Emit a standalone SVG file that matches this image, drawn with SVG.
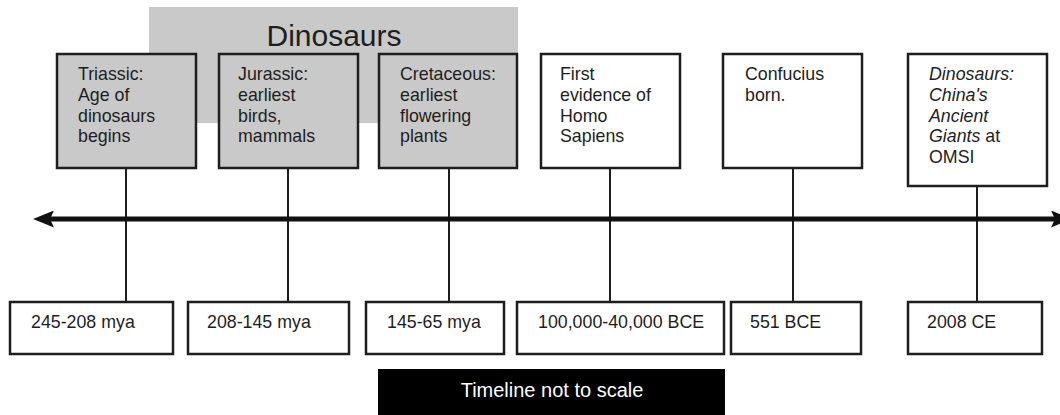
<svg xmlns="http://www.w3.org/2000/svg" width="1060" height="415" viewBox="0 0 1060 415">
<defs>
<style>
.bg{fill:#ffffff}
.era{fill:#c9c9c9;stroke:#1e1e1e;stroke-width:2.5}
.evt{fill:#ffffff;stroke:#1e1e1e;stroke-width:2.5}
.t{font-family:"Liberation Sans",Arial,sans-serif;font-size:17.8px;fill:#1e1e1e}
.it{font-style:italic}
.title{font-family:"Liberation Sans",Arial,sans-serif;font-size:30px;fill:#1e1e1e}
.note{font-family:"Liberation Sans",Arial,sans-serif;font-size:20px;fill:#ffffff}
.conn{stroke:#1e1e1e;stroke-width:2;fill:none}
.axis{stroke:#111;stroke-width:5;fill:none}
</style>
<marker id="ah" viewBox="0 0 21 17" markerWidth="21" markerHeight="17" refX="4" refY="8.5" orient="auto-start-reverse" markerUnits="userSpaceOnUse">
<path d="M0,0 L21,8.5 L0,17 L4,8.5 Z" fill="#111"/>
</marker>
</defs>
<rect class="bg" x="0" y="0" width="1060" height="415"/>

<g id="dinosaurs-band">
<rect x="149" y="7" width="369" height="116" fill="#c9c9c9"/>
<text class="title" x="334" y="46" text-anchor="middle">Dinosaurs</text>
</g>

<g id="connectors">
<line class="conn" x1="126" y1="168" x2="126" y2="302"/>
<line class="conn" x1="288" y1="168" x2="288" y2="302"/>
<line class="conn" x1="449" y1="168" x2="449" y2="302"/>
<line class="conn" x1="610" y1="168" x2="610" y2="302"/>
<line class="conn" x1="793" y1="168" x2="793" y2="302"/>
<line class="conn" x1="977" y1="186" x2="977" y2="302"/>
<line class="axis" x1="50" y1="219" x2="1055" y2="219" marker-start="url(#ah)" marker-end="url(#ah)"/>
</g>

<g id="triassic">
<rect class="era" x="57" y="54" width="139" height="114"/>
<text class="t" x="78" y="80">Triassic:</text>
<text class="t" x="78" y="101">Age of</text>
<text class="t" x="78" y="121.5">dinosaurs</text>
<text class="t" x="78" y="142">begins</text>
</g>
<g id="jurassic">
<rect class="era" x="219" y="54" width="139" height="114"/>
<text class="t" x="238" y="80">Jurassic:</text>
<text class="t" x="238" y="101">earliest</text>
<text class="t" x="238" y="121.5">birds,</text>
<text class="t" x="238" y="142">mammals</text>
</g>
<g id="cretaceous">
<rect class="era" x="379" y="54" width="138" height="114"/>
<text class="t" x="400" y="80">Cretaceous:</text>
<text class="t" x="400" y="101">earliest</text>
<text class="t" x="400" y="121.5">flowering</text>
<text class="t" x="400" y="142">plants</text>
</g>
<g id="homo-sapiens">
<rect class="evt" x="541" y="54" width="139" height="114"/>
<text class="t" x="560" y="80">First</text>
<text class="t" x="560" y="101">evidence of</text>
<text class="t" x="560" y="121.5">Homo</text>
<text class="t" x="560" y="142">Sapiens</text>
</g>
<g id="confucius">
<rect class="evt" x="723" y="54" width="139" height="114"/>
<text class="t" x="745" y="80">Confucius</text>
<text class="t" x="745" y="101">born.</text>
</g>
<g id="omsi">
<rect class="evt" x="908" y="54" width="139" height="132"/>
<text class="t it" x="929" y="80">Dinosaurs:</text>
<text class="t it" x="929" y="101">China's</text>
<text class="t it" x="929" y="121.5">Ancient</text>
<text class="t" x="929" y="142"><tspan class="it">Giants</tspan> at</text>
<text class="t" x="929" y="163">OMSI</text>
</g>

<g id="date-245-208">
<rect class="evt" x="10" y="302" width="163" height="52"/>
<text class="t" x="31" y="328">245-208 mya</text>
</g>
<g id="date-208-145">
<rect class="evt" x="188" y="302" width="161" height="52"/>
<text class="t" x="207" y="328">208-145 mya</text>
</g>
<g id="date-145-65">
<rect class="evt" x="366" y="302" width="138" height="52"/>
<text class="t" x="387" y="328">145-65 mya</text>
</g>
<g id="date-100000">
<rect class="evt" x="517" y="302" width="207" height="52"/>
<text class="t" x="538" y="328">100,000-40,000 BCE</text>
</g>
<g id="date-551">
<rect class="evt" x="731" y="302" width="130" height="52"/>
<text class="t" x="750" y="328">551 BCE</text>
</g>
<g id="date-2008">
<rect class="evt" x="908" y="302" width="134" height="52"/>
<text class="t" x="927" y="328">2008 CE</text>
</g>

<g id="scale-note">
<rect x="378" y="369" width="347" height="46" fill="#000"/>
<text class="note" x="552" y="397" text-anchor="middle">Timeline not to scale</text>
</g>
</svg>
